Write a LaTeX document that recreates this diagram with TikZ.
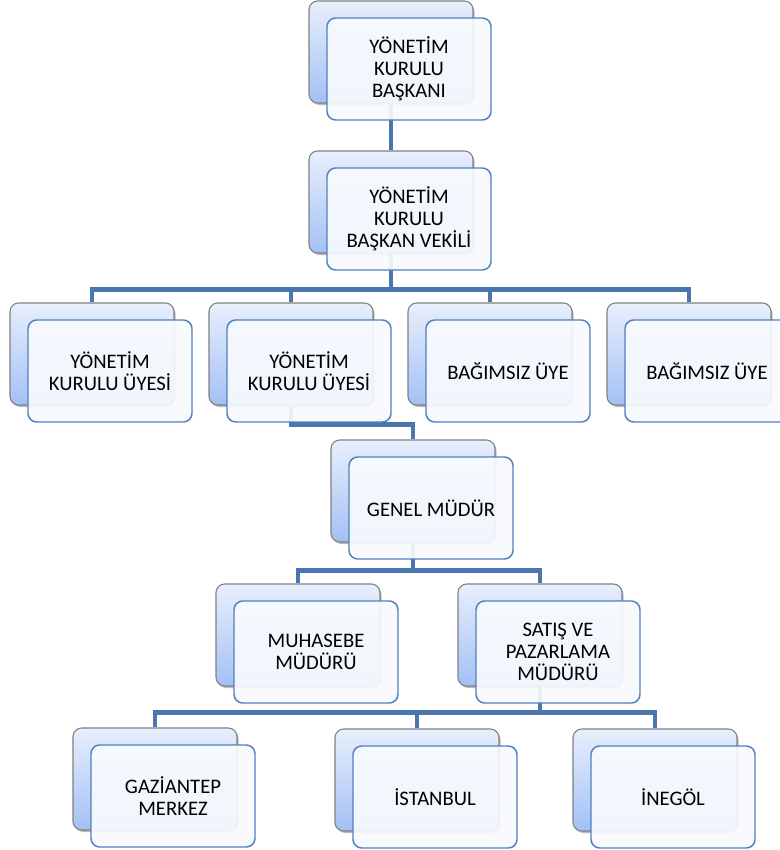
\documentclass[tikz,border=0pt]{standalone}
\usepackage{fontspec}
\setmainfont{Carlito}
\usetikzlibrary{calc,shadows,backgrounds}
\definecolor{blueA}{RGB}{232,239,252}
\definecolor{blueB}{RGB}{163,192,245}
\definecolor{frameblue}{RGB}{79,129,189}
\definecolor{linkblue}{RGB}{74,118,175}
\definecolor{paleblue}{RGB}{248,250,254}

\begin{document}
\begin{tikzpicture}[
    x=0.75pt, y=-0.75pt,
    backbox/.style={draw=black!50, line width=0.8pt, rounded corners=6.5pt, minimum width=123pt, minimum height=76.5pt, top color=blueA, bottom color=blueB, drop shadow={shadow xshift=1.2pt, shadow yshift=-1.5pt, opacity=0.45, fill=black!60}},
    frontbox/.style={draw=frameblue, line width=1.1pt, rounded corners=6.5pt, minimum width=123pt, minimum height=76.5pt, fill=paleblue, fill opacity=0.92, text opacity=1, align=center, font=\fontsize{15.5}{16.5}\selectfont},
    link/.style={draw=linkblue, line width=3.6pt}
]
\useasboundingbox (0,0) rectangle (780,850);

% Level 1: board chair
\node[backbox] (baskan) at (391,52) {};
\node[frontbox] (baskanfr) at ($(baskan)+(18,17)$) {YÖNETİM\\KURULU\\BAŞKANI};

% Level 2: vice chair
\node[backbox] (vekil) at (391,202) {};
\node[frontbox] (vekilfr) at ($(vekil)+(18,17)$) {YÖNETİM\\KURULU\\BAŞKAN VEKİLİ};

% Level 3: board members
\node[backbox] (uye1) at (92,354) {};
\node[frontbox] (uye1fr) at ($(uye1)+(18,17)$) {YÖNETİM\\KURULU ÜYESİ};
\node[backbox] (uye2) at (291,354) {};
\node[frontbox] (uye2fr) at ($(uye2)+(18,17)$) {YÖNETİM\\KURULU ÜYESİ};
\node[backbox] (bag1) at (490,354) {};
\node[frontbox] (bag1fr) at ($(bag1)+(18,17)$) {BAĞIMSIZ ÜYE};
\node[backbox] (bag2) at (689,354) {};
\node[frontbox] (bag2fr) at ($(bag2)+(18,17)$) {BAĞIMSIZ ÜYE};

% Level 4: general manager
\node[backbox] (genel) at (413,491) {};
\node[frontbox] (genelfr) at ($(genel)+(18,17)$) {GENEL MÜDÜR};

% Level 5: managers
\node[backbox] (muhasebe) at (298,635) {};
\node[frontbox] (muhasebefr) at ($(muhasebe)+(18,17)$) {MUHASEBE\\MÜDÜRÜ};
\node[backbox] (satis) at (540,635) {};
\node[frontbox] (satisfr) at ($(satis)+(18,17)$) {SATIŞ VE\\PAZARLAMA\\MÜDÜRÜ};

% Level 6: branches
\node[backbox] (gazi) at (155,779) {};
\node[frontbox] (gazifr) at ($(gazi)+(18,17)$) {GAZİANTEP\\MERKEZ};
\node[backbox] (istanbul) at (417,780) {};
\node[frontbox] (istanbulfr) at ($(istanbul)+(18,17)$) {İSTANBUL};
\node[backbox] (inegol) at (655,780) {};
\node[frontbox] (inegolfr) at ($(inegol)+(18,17)$) {İNEGÖL};

% Links
\begin{scope}[on background layer]
\fill[white] (0,0) rectangle (780,850);
\draw[link] (baskan) -- (vekil);
\draw[link] (vekil.south) -- +(0,36) -| (uye1.north);
\draw[link] (vekil.south) -- +(0,36) -| (uye2.north);
\draw[link] (vekil.south) -- +(0,36) -| (bag1.north);
\draw[link] (vekil.south) -- +(0,36) -| (bag2.north);
\draw[link] (uye2.south) -- +(0,19) -| (genel.north);
\draw[link] (genel.south) -- +(0,28) -| (muhasebe.north);
\draw[link] (genel.south) -- +(0,28) -| (satis.north);
\draw[link] (satis.south) -- +(0,26) -| (gazi.north);
\draw[link] (satis.south) -- +(0,26) -| (istanbul.north);
\draw[link] (satis.south) -- +(0,26) -| (inegol.north);
\end{scope}

\end{tikzpicture}
\end{document}
